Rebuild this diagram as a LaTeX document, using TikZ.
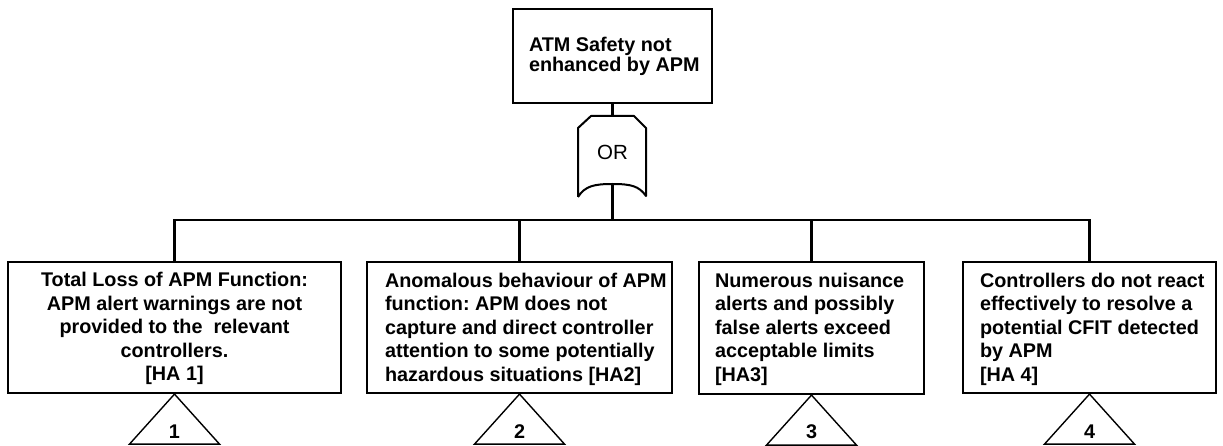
\documentclass[tikz,border=0pt]{standalone}
\usepackage{fontspec}
\setmainfont{Liberation Sans}
\frenchspacing
\begin{document}
\begin{tikzpicture}[x=1pt,y=-1pt,
  line width=2.2pt,
  box/.style={draw,rectangle,inner sep=0pt},
  txt/.style={inner sep=0pt,font=\fontsize{19.8}{23.5}\selectfont\bfseries},
  toptxt/.style={inner sep=0pt,align=left,font=\fontsize{19.8}{20}\selectfont\bfseries},
  num/.style={inner sep=0pt,font=\fontsize{19.8}{22}\selectfont\bfseries},
  tri/.style={line width=1.4pt,line join=miter},
  gate/.style={line width=2pt,line join=round},
  stem/.style={line width=3.8pt}]
\useasboundingbox (0,0) rectangle (1223,446);
\coordinate (bus) at (0,220);
\coordinate (base) at (0,443);

% top event
\node[box,minimum width=199pt,minimum height=94pt] (b0) at (612.5,56) {};
\node[toptxt,anchor=west] (t0) at ([xshift=16pt]b0.west) {ATM Safety not\\enhanced by APM};

% OR gate
\coordinate (gtop) at (612.5,116);
\coordinate (gbot) at (612.5,184);
\draw[gate] (578,197) -- (578,128) -- (591,116) -- (634,116) -- (646,128) -- (646,196)
  .. controls (639,186) and (631,184) .. (gbot)
  .. controls (594,184) and (585,186) .. (578,197);
\node[inner sep=0pt,font=\fontsize{20.5}{22}\selectfont] (or) at (612.5,152) {OR};
\draw (b0.south) -- (gtop);
\draw[stem] (gbot) -- (gbot |- bus);

% intermediate events
\node[box,minimum width=333pt,minimum height=131pt] (b1) at (174.5,327.5) {};
\node[box,minimum width=305pt,minimum height=131pt] (b2) at (519.5,327.5) {};
\node[box,minimum width=225pt,minimum height=132pt] (b3) at (811.5,328) {};
\node[box,minimum width=253pt,minimum height=131pt] (b4) at (1089.5,327.5) {};

\node[txt,align=center] (t1) at ([yshift=-1pt]b1.center)
  {Total Loss of APM Function:\\APM alert warnings are not\\provided to the\ \ relevant\\controllers.\\{[HA 1]}};
\node[txt,align=left,anchor=west] (t2) at ([xshift=18pt,yshift=-1.5pt]b2.west)
  {Anomalous behaviour of APM\\function: APM does not\\capture and direct controller\\attention to some potentially\\hazardous situations [HA2]};
\node[txt,align=left,anchor=west] (t3) at ([xshift=16pt,yshift=-1pt]b3.west)
  {Numerous nuisance\\alerts and possibly\\false alerts exceed\\acceptable limits\\{[HA3]}};
\node[txt,align=left,anchor=west] (t4) at ([xshift=17pt,yshift=-1.5pt]b4.west)
  {Controllers do not react\\effectively to resolve a\\potential CFIT detected\\by APM\\{[HA 4]}};

% bus from the gate to the four events
\draw (b1.north) -- (b1.north |- bus) -- (b4.north |- bus) -- (b4.north);
\draw (b2.north) -- (b2.north |- bus);
\draw (b3.north) -- (b3.north |- bus);

% transfer triangles
\foreach \i in {1,2,3,4}{
  \draw[tri] (b\i.south) -- ++(-45,50) -- ++(90,0) -- cycle;
}
\node[num] (n1) at ([yshift=11pt]b1.south |- base) {1};
\node[num] (n2) at ([yshift=11pt]b2.south |- base) {2};
\node[num] (n3) at ([yshift=11pt]b3.south |- base) {3};
\node[num] (n4) at ([yshift=11pt]b4.south |- base) {4};
\end{tikzpicture}
\end{document}
